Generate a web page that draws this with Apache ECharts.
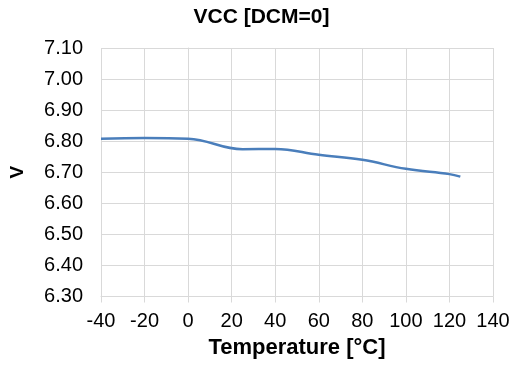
<!DOCTYPE html>
<html>
<head>
<meta charset="utf-8">
<script src="https://cdn.jsdelivr.net/npm/echarts@6/dist/echarts.min.js"></script>
<style>
  html, body { margin: 0; padding: 0; background: #ffffff; }
  #chart { width: 523px; height: 371px; }
</style>
</head>
<body>
<div id="chart"></div>
<script>
// Supply voltage VCC versus junction temperature (DCM = 0)
var temperatures = [-40, -20, 0, 25, 40, 60, 80, 100, 120, 125];
var vccValues = [6.808, 6.810, 6.808, 6.774, 6.775, 6.756, 6.740, 6.711, 6.694, 6.686];

var chartTitle = 'VCC [DCM=0]';
var xAxisTitle = 'Temperature [°C]';
var yAxisTitle = 'V';

var FONT = '"Liberation Sans", Arial, Helvetica, sans-serif';
var GRID_COLOR = '#d9d9d9';

var points = temperatures.map(function (t, i) { return [t, vccValues[i]]; });

var chart = echarts.init(document.getElementById('chart'), null, { renderer: 'canvas' });
chart.setOption({
  animation: false,
  backgroundColor: '#ffffff',
  title: {
    text: chartTitle,
    left: 'center',
    top: 2,
    textStyle: { fontFamily: FONT, fontSize: 21, fontWeight: 'bold', color: '#000000' }
  },
  grid: {
    left: 101, right: 30, top: 48, bottom: 74.5,
    containLabel: false,
    outerBoundsMode: 'none'
  },
  xAxis: {
    type: 'value',
    min: -40,
    max: 140,
    interval: 20,
    name: xAxisTitle,
    nameLocation: 'middle',
    nameGap: 40,
    nameTextStyle: { fontFamily: FONT, fontSize: 22, fontWeight: 'bold', color: '#000000' },
    axisLine: { show: true, lineStyle: { color: GRID_COLOR, width: 1 } },
    axisTick: { show: true, length: 6, lineStyle: { color: GRID_COLOR } },
    axisLabel: { fontFamily: FONT, fontSize: 20, color: '#000000', margin: 15 },
    splitLine: { show: true, lineStyle: { color: GRID_COLOR, width: 1 } }
  },
  yAxis: {
    type: 'value',
    min: 6.3,
    max: 7.1,
    interval: 0.1,
    name: yAxisTitle,
    nameLocation: 'middle',
    nameGap: 74,
    nameTextStyle: { fontFamily: FONT, fontSize: 19, fontWeight: 'bold', color: '#000000' },
    axisLine: { show: true, lineStyle: { color: GRID_COLOR, width: 1 } },
    axisTick: { show: true, length: 5, lineStyle: { color: GRID_COLOR } },
    axisLabel: {
      fontFamily: FONT, fontSize: 20, color: '#000000', margin: 18,
      formatter: function (v) { return v.toFixed(2); }
    },
    splitLine: { show: true, lineStyle: { color: GRID_COLOR, width: 1 } }
  },
  series: [{
    type: 'line',
    data: points,
    smooth: 0.4,
    symbol: 'none',
    lineStyle: { color: '#4a7ebb', width: 2.5 }
  }]
});
</script>
</body>
</html>
